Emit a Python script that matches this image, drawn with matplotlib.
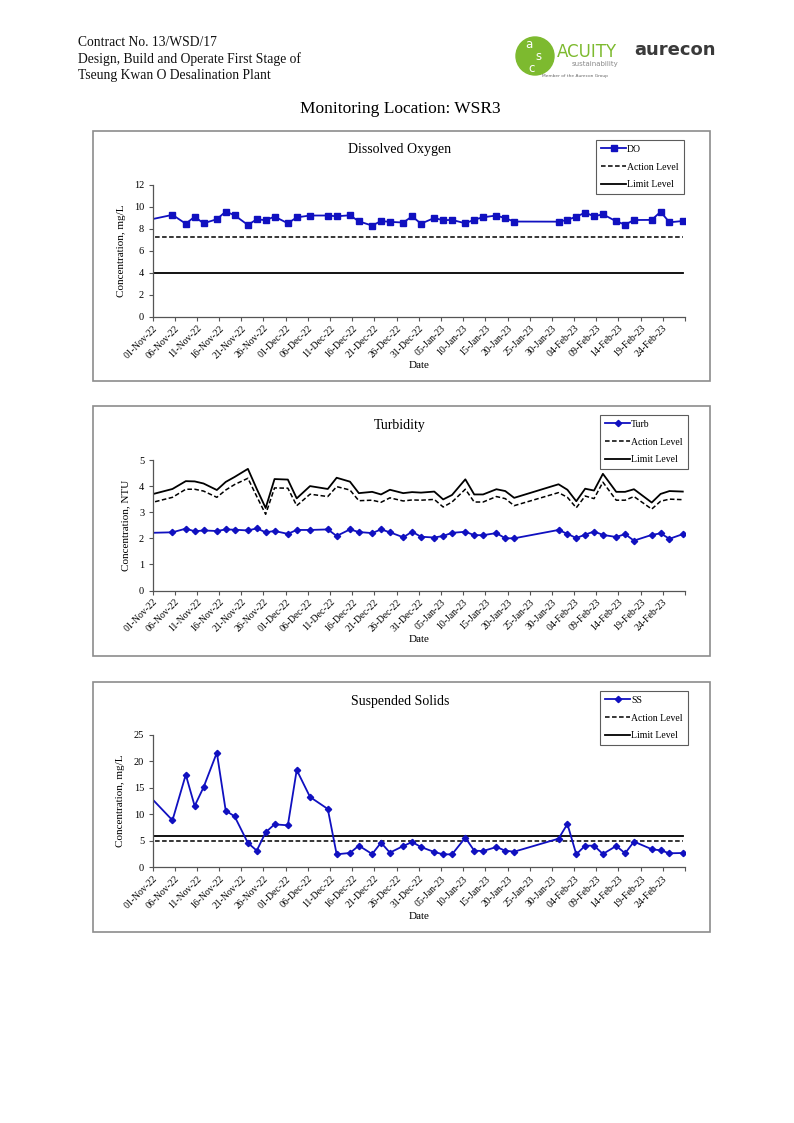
import matplotlib
matplotlib.use('Agg')
import matplotlib.pyplot as plt
from matplotlib.patches import Rectangle, Circle
from matplotlib.lines import Line2D
import pandas as pd
import numpy as np

# ---------------- data ----------------
sample_dates = ['2022-10-29', '2022-11-05', '2022-11-08', '2022-11-10', '2022-11-12', '2022-11-15',
                '2022-11-17', '2022-11-19', '2022-11-22', '2022-11-24', '2022-11-26', '2022-11-28',
                '2022-12-01', '2022-12-03', '2022-12-06', '2022-12-10', '2022-12-12', '2022-12-15',
                '2022-12-17', '2022-12-20', '2022-12-22', '2022-12-24', '2022-12-27', '2022-12-29',
                '2022-12-31', '2023-01-03', '2023-01-05', '2023-01-07', '2023-01-10', '2023-01-12',
                '2023-01-14', '2023-01-17', '2023-01-19', '2023-01-21', '2023-01-31', '2023-02-02',
                '2023-02-04', '2023-02-06', '2023-02-08', '2023-02-10', '2023-02-13', '2023-02-15',
                '2023-02-17', '2023-02-21', '2023-02-23', '2023-02-25', '2023-02-28']

do_values = [8.68, 9.28, 8.47, 9.11, 8.51, 8.88, 9.58, 9.24, 8.36, 8.88, 8.79, 9.12, 8.51, 9.05,
             9.22, 9.22, 9.15, 9.24, 8.69, 8.30, 8.72, 8.64, 8.58, 9.14, 8.48, 8.99, 8.79, 8.82,
             8.51, 8.84, 9.06, 9.22, 8.97, 8.67, 8.66, 8.82, 9.12, 9.48, 9.15, 9.33, 8.69, 8.39,
             8.81, 8.82, 9.56, 8.60, 8.72]
do_action = 7.3
do_limit = 4.0

turb_values = [2.20, 2.23, 2.37, 2.27, 2.30, 2.28, 2.34, 2.33, 2.30, 2.38, 2.23, 2.28, 2.17, 2.32,
               2.32, 2.34, 2.09, 2.34, 2.24, 2.20, 2.34, 2.23, 2.04, 2.25, 2.06, 2.03, 2.09, 2.21,
               2.25, 2.12, 2.12, 2.20, 2.00, 2.00, 2.32, 2.17, 2.01, 2.14, 2.26, 2.13, 2.05, 2.16,
               1.91, 2.13, 2.19, 1.98, 2.16]
turb_action = [3.27, 3.57, 3.88, 3.88, 3.81, 3.57, 3.85, 4.06, 4.30, 3.60, 2.92, 3.93, 3.92, 3.25,
               3.69, 3.60, 3.98, 3.85, 3.44, 3.46, 3.38, 3.55, 3.43, 3.47, 3.46, 3.49, 3.20, 3.39,
               3.88, 3.39, 3.39, 3.60, 3.52, 3.25, 3.75, 3.57, 3.17, 3.62, 3.52, 4.15, 3.46, 3.46,
               3.60, 3.12, 3.42, 3.50, 3.48]
turb_limit = [3.58, 3.89, 4.19, 4.18, 4.10, 3.85, 4.16, 4.35, 4.66, 3.89, 3.16, 4.27, 4.25, 3.53,
              4.00, 3.89, 4.32, 4.17, 3.73, 3.78, 3.68, 3.86, 3.73, 3.77, 3.75, 3.79, 3.49, 3.66,
              4.26, 3.68, 3.68, 3.88, 3.81, 3.55, 4.07, 3.86, 3.42, 3.90, 3.83, 4.47, 3.78, 3.78,
              3.88, 3.37, 3.70, 3.81, 3.79]

ss_values = [15.05, 8.88, 17.5, 11.59, 15.11, 21.66, 10.7, 9.63, 4.6, 3.15, 6.61, 8.12, 7.93, 18.39,
             13.29, 11.02, 2.46, 2.71, 4.09, 2.51, 4.65, 2.77, 4.02, 4.78, 3.83, 2.89, 2.45, 2.45,
             5.6, 3.14, 3.08, 3.83, 3.14, 2.95, 5.41, 8.18, 2.45, 4.09, 4.09, 2.52, 4.03, 2.65,
             4.85, 3.42, 3.2, 2.65, 2.7]
ss_action = 5.0
ss_limit = 6.0

axis_start = '2022-11-01'
axis_end = '2023-03-01'
tick_step_days = 5

header_lines = ['Contract No. 13/WSD/17',
                'Design, Build and Operate First Stage of',
                'Tseung Kwan O Desalination Plant']
page_title = 'Monitoring Location: WSR3'

# ---------------- helpers ----------------
W, H = 794, 1123
fig = plt.figure(figsize=(W / 100, H / 100), dpi=100)
fig.patch.set_facecolor('white')

SERIF = ['Liberation Serif', 'DejaVu Serif']
BLUE = '#1010C0'


def fx(x):
    return x / W


def fy(y):
    return 1 - y / H


# Excel date axis with "between tick marks": points sit at mid-day
xdates = pd.to_datetime(sample_dates) + pd.Timedelta(hours=12)
x0 = pd.Timestamp(axis_start)
x1 = pd.Timestamp(axis_end)
ticks = pd.date_range(x0, x1, freq=f'{tick_step_days}D')
tick_labels = [t.strftime('%d-%b-%y') for t in ticks]
tick_labels[-1] = ''


def make_chart(box_top, ax_top, ax_bottom, title, ylabel, ymax, ystep,
               series, action, limit, marker, msize, legend_rect, leg_label):
    fig.add_artist(Rectangle((fx(93), fy(box_top + 250)), fx(710) - fx(93),
                             fy(box_top) - fy(box_top + 250), transform=fig.transFigure,
                             fill=False, edgecolor='#8c8c8c', linewidth=1.2))
    left, right = 152.5, 685
    ax = fig.add_axes([fx(left), fy(ax_bottom), fx(right) - fx(left), fy(ax_top) - fy(ax_bottom)])
    ax.set_facecolor('none')
    n = len(xdates)
    act = action if np.ndim(action) else [action] * n
    lim = limit if np.ndim(limit) else [limit] * n
    ax.plot(xdates, act, color='black', linestyle=(0, (3, 1.6)), linewidth=1.1, clip_on=True)
    ax.plot(xdates, lim, color='black', linestyle='-', linewidth=1.3, clip_on=True)
    ax.plot(xdates, series, color=BLUE, linewidth=1.3, marker=marker, markersize=msize,
            markerfacecolor=BLUE, markeredgecolor=BLUE, clip_on=True)
    ax.set_xlim(x0, x1)
    ax.set_ylim(0, ymax)
    yt = np.arange(0, ymax + 0.001, ystep)
    ax.set_yticks(yt)
    ax.set_yticklabels([f'{v:g}' for v in yt], fontsize=7.5, family=SERIF)
    ax.set_xticks(ticks)
    ax.set_xticklabels(tick_labels, rotation=45, ha='right', va='top', rotation_mode='anchor',
                       fontsize=7, family=SERIF)
    ax.tick_params(axis='both', direction='out', length=3, width=0.8, color='#555555', pad=2)
    ax.tick_params(axis='y', pad=3)
    for s in ['top', 'right']:
        ax.spines[s].set_visible(False)
    for s in ['left', 'bottom']:
        ax.spines[s].set_color('#555555')
        ax.spines[s].set_linewidth(0.9)
    ax.set_ylabel(ylabel, fontsize=8, family=SERIF, labelpad=6)
    ax.set_xlabel('Date', fontsize=8, family=SERIF, labelpad=1)
    fig.text(fx(400), fy(box_top + 19), title, ha='center', va='center', fontsize=10,
             family=SERIF)
    lx0, ly0, lx1, ly1 = legend_rect
    handles = [Line2D([], [], color=BLUE, linewidth=1.3, marker=marker, markersize=msize),
               Line2D([], [], color='black', linestyle=(0, (3, 1.6)), linewidth=1.1),
               Line2D([], [], color='black', linewidth=1.3)]
    leg = fig.legend(handles, [leg_label, 'Action Level', 'Limit Level'],
                     loc='upper left', bbox_to_anchor=(fx(lx0), fy(ly0)),
                     bbox_transform=fig.transFigure, frameon=True, fancybox=False,
                     prop={'family': SERIF, 'size': 7}, handlelength=2.6,
                     handletextpad=0.1, labelspacing=0.9, borderpad=0.5,
                     borderaxespad=0.0)
    leg.get_frame().set_edgecolor('#333333')
    leg.get_frame().set_linewidth(0.8)
    return ax


make_chart(131, 185, 316.7, 'Dissolved Oxygen', 'Concentration, mg/L', 12, 2,
           do_values, do_action, do_limit, 's', 4.2, (596, 140, 688, 191), 'DO')
make_chart(406, 460, 590.5, 'Turbidity', 'Concentration, NTU', 5, 1,
           turb_values, turb_action, turb_limit, 'D', 3.2, (600, 415, 707, 466), 'Turb')
make_chart(682, 735, 867.3, 'Suspended Solids', 'Concentration, mg/L', 25, 5,
           ss_values, ss_action, ss_limit, 'D', 3.2, (600, 691, 707, 742), 'SS')

# ---------------- header ----------------
for i, line in enumerate(header_lines):
    fig.text(fx(78), fy(42 + 17 * i), line, ha='left', va='center', fontsize=9.8,
             family=SERIF, color='#111111')

fig.text(fx(400), fy(109), page_title, ha='center', va='center', fontsize=12.5,
         family=SERIF, color='black')

# logos
GREEN = '#7DBA2F'
ax_logo = fig.add_axes([0, 0, 1, 1], facecolor='none')
ax_logo.set_xlim(0, W)
ax_logo.set_ylim(H, 0)
ax_logo.axis('off')
ax_logo.add_patch(Circle((535, 56), 19, color=GREEN))
ax_logo.text(529, 44, 'a', color='white', fontsize=8.5, ha='center', va='center', family='DejaVu Sans')
ax_logo.text(538, 57, 's', color='white', fontsize=8.5, ha='center', va='center', family='DejaVu Sans')
ax_logo.text(532, 69, 'c', color='white', fontsize=8.5, ha='center', va='center', family='DejaVu Sans')
ax_logo.text(557, 52, 'ACUITY', color=GREEN, fontsize=12, ha='left', va='center', family='DejaVu Sans')
ax_logo.text(618, 64, 'sustainability', color='#8a8a8a', fontsize=5, ha='right', va='center', family='DejaVu Sans')
ax_logo.text(575, 76, 'Member of the Aurecon Group', color='#666666', fontsize=3.2, ha='center', va='center', family='DejaVu Sans')
ax_logo.text(634, 50, 'aurecon', color='#3a3a3a', fontsize=13, fontweight='bold', ha='left', va='center', family='DejaVu Sans')

fig.savefig('out.png', dpi=100, facecolor='white')
